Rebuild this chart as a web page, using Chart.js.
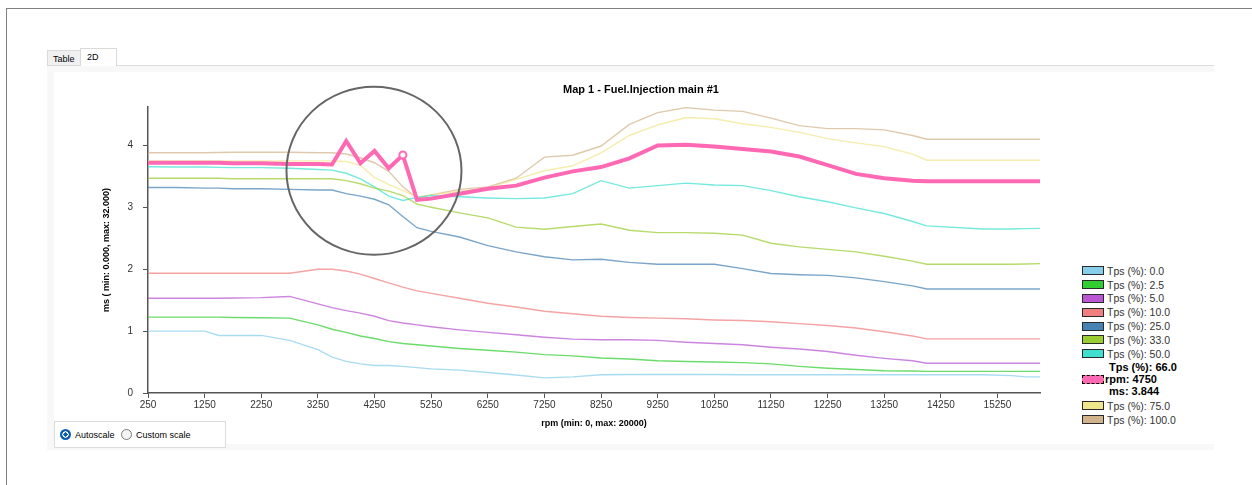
<!DOCTYPE html>
<html>
<head>
<meta charset="utf-8">
<script src="https://cdn.jsdelivr.net/npm/chart.js@4.4.1/dist/chart.umd.min.js"></script>
<style>
  html,body{margin:0;padding:0;background:#fff;}
  body{width:1252px;height:485px;overflow:hidden;position:relative;font-family:"Liberation Sans",Arial,sans-serif;}
  .abs{position:absolute;}
  #frame{left:6px;top:8px;width:1300px;height:600px;border-left:1px solid #808080;border-top:1px solid #808080;}
  .tab{position:absolute;box-sizing:border-box;font-size:9px;color:#000;}
  #tabTable{left:47px;top:50px;width:34px;height:15px;background:#f0f0f0;border:1px solid #d9d9d9;border-bottom:none;padding:3px 0 0 5px;}
  #tab2D{left:80px;top:48px;width:37px;height:18px;background:#fff;border:1px solid #d9d9d9;border-bottom:none;padding:3px 0 0 6px;z-index:2;}
  #tabLine{left:47px;top:65px;width:1167px;height:1px;background:#dcdcdc;}
  #panel{left:47px;top:66px;width:1167px;height:384px;background:#f8f8f8;}
  #inner{left:54px;top:72px;width:1160px;height:372px;background:#fff;}
  #chart{position:absolute;left:54px;top:72px;}
  #title{left:441px;top:83px;width:400px;text-align:center;font-weight:bold;font-size:11px;color:#000;}
  #legend{left:1082px;top:264px;width:160px;font-size:10.5px;color:#333;}
  .row{display:flex;align-items:center;height:13.8px;}
  .sw{width:22px;height:9px;box-sizing:border-box;border:1px solid #2a2a2a;margin-right:3px;flex:none;}
  .brow{height:12.4px;line-height:12.4px;font-weight:bold;font-size:11px;color:#000;display:flex;align-items:center;}
  .dsw{width:22px;height:9px;box-sizing:border-box;border:1.5px dashed #000;margin-right:1px;flex:none;}
  #radioBox{left:54px;top:421px;width:172px;height:27px;box-sizing:border-box;border:1px solid #dcdcdc;background:#fff;font-size:9px;color:#000;}
  .rb{position:absolute;top:7px;width:11px;height:11px;border-radius:50%;box-sizing:border-box;}
  #rb1{left:5px;background:radial-gradient(circle,#0a5fb0 0 2px,#fff 2.2px 3px,#0a5fb0 3.3px);}
  #rb2{left:66px;border:1px solid #7a7a7a;background:#f4f4f4;}
  .rt{position:absolute;top:8px;}
</style>
</head>
<body>
<div id="frame" class="abs"></div>
<div id="tabTable" class="tab">Table</div>
<div id="tab2D" class="tab">2D</div>
<div id="tabLine" class="abs"></div>
<div id="panel" class="abs"></div>
<div id="inner" class="abs"></div>
<canvas id="chart" width="1000" height="371"></canvas>
<div id="title" class="abs">Map 1 - Fuel.Injection main #1</div>
<div id="legend" class="abs"></div>
<div id="radioBox" class="abs">
  <div id="rb1" class="rb"></div><span class="rt" style="left:20px">Autoscale</span>
  <div id="rb2" class="rb"></div><span class="rt" style="left:81px">Custom scale</span>
</div>
<script>
// ---------- data ----------
const chartTitle = 'Map 1 - Fuel.Injection main #1';
const xAxisTitle = 'rpm (min: 0, max: 20000)';
const yAxisTitle = 'ms ( min: 0.000, max: 32.000)';
const legendPrefix = 'Tps (%): ';
const tpsValues = [0.0, 2.5, 5.0, 10.0, 25.0, 33.0, 50.0, 66.0, 75.0, 100.0];
const seriesColors = ['#87CEEB','#32CD32','#BA55D3','#F08080','#4682B4','#9ACD32','#40E0D0','#FF69B4','#F0E68C','#D2B48C'];
const xTickValues = [250,1250,2250,3250,4250,5250,6250,7250,8250,9250,10250,11250,12250,13250,14250,15250];
const yTickValues = [0,1,2,3,4];
const rpm = [250,750,1250,1500,1750,2250,2750,3250,3500,3750,4000,4250,4500,4750,5000,5250,5750,6250,6750,7250,7750,8250,8750,9250,9750,10250,10750,11250,11750,12250,12750,13250,13750,14000,15000,15500,15750,16000];

const tps0   = [1.00,1.00,1.00,0.93,0.93,0.93,0.85,0.70,0.58,0.51,0.47,0.445,0.445,0.43,0.41,0.39,0.37,0.33,0.29,0.245,0.26,0.295,0.30,0.30,0.30,0.30,0.295,0.295,0.295,0.295,0.295,0.295,0.295,0.295,0.295,0.28,0.26,0.26];
const tps2_5 = [1.225,1.225,1.225,1.225,1.22,1.215,1.21,1.10,1.03,0.98,0.92,0.88,0.83,0.80,0.78,0.76,0.72,0.69,0.66,0.62,0.60,0.565,0.55,0.52,0.51,0.50,0.49,0.47,0.43,0.40,0.38,0.36,0.355,0.35,0.35,0.35,0.35,0.35];
const tps5   = [1.53,1.53,1.53,1.53,1.535,1.54,1.56,1.44,1.38,1.33,1.29,1.24,1.17,1.13,1.10,1.07,1.02,0.98,0.94,0.90,0.87,0.86,0.86,0.85,0.82,0.80,0.78,0.74,0.71,0.67,0.61,0.56,0.52,0.48,0.48,0.48,0.48,0.48];
const tps10  = [1.935,1.935,1.935,1.935,1.935,1.935,1.935,2.00,2.00,1.97,1.92,1.85,1.78,1.71,1.65,1.61,1.53,1.45,1.39,1.32,1.28,1.24,1.22,1.21,1.20,1.18,1.17,1.15,1.12,1.09,1.05,0.99,0.92,0.875,0.875,0.875,0.875,0.875];
const tps25  = [3.32,3.32,3.31,3.31,3.30,3.30,3.29,3.28,3.28,3.22,3.18,3.13,3.04,2.85,2.67,2.61,2.52,2.38,2.28,2.20,2.15,2.16,2.11,2.08,2.08,2.08,2.01,1.93,1.91,1.90,1.86,1.80,1.73,1.68,1.68,1.68,1.68,1.68];
const tps33  = [3.47,3.47,3.47,3.47,3.46,3.46,3.46,3.46,3.46,3.43,3.38,3.31,3.26,3.19,3.05,3.00,2.91,2.83,2.68,2.645,2.69,2.73,2.63,2.59,2.59,2.58,2.55,2.42,2.36,2.32,2.28,2.21,2.13,2.08,2.08,2.08,2.085,2.09];
const tps50  = [3.655,3.65,3.65,3.645,3.64,3.64,3.63,3.61,3.60,3.55,3.46,3.33,3.18,3.11,3.16,3.19,3.17,3.15,3.14,3.15,3.22,3.43,3.31,3.35,3.39,3.36,3.35,3.27,3.17,3.09,2.99,2.90,2.77,2.70,2.65,2.65,2.655,2.66];
const tps66  = [3.72,3.72,3.72,3.72,3.71,3.71,3.70,3.70,3.69,4.07,3.71,3.91,3.63,3.844,3.12,3.14,3.22,3.30,3.35,3.48,3.58,3.65,3.79,4.00,4.01,3.98,3.94,3.90,3.82,3.68,3.54,3.47,3.43,3.42,3.42,3.42,3.42,3.42];
const tps75  = [3.75,3.75,3.75,3.75,3.75,3.75,3.75,3.75,3.75,3.74,3.68,3.48,3.37,3.27,3.17,3.20,3.26,3.31,3.45,3.59,3.67,3.88,4.16,4.33,4.45,4.43,4.35,4.29,4.21,4.11,4.04,3.98,3.86,3.76,3.76,3.76,3.76,3.76];
const tps100 = [3.88,3.88,3.88,3.885,3.89,3.89,3.89,3.88,3.88,3.86,3.80,3.72,3.58,3.33,3.15,3.20,3.29,3.33,3.47,3.81,3.84,3.99,4.34,4.53,4.61,4.57,4.55,4.44,4.32,4.27,4.27,4.25,4.16,4.10,4.10,4.10,4.10,4.10];

const seriesValues = [tps0, tps2_5, tps5, tps10, tps25, tps33, tps50, tps66, tps75, tps100];
const highlightSeries = 7;     // Tps 66.0
const markedRpm = 4750;
const circleCenter = {rpm: 4240, ms: 3.59};

// ---------- helpers ----------
function hexA(hex, a){
  const n = parseInt(hex.slice(1),16);
  return `rgba(${(n>>16)&255},${(n>>8)&255},${n&255},${a})`;
}
const FONT = '"Liberation Sans", Arial, sans-serif';
const markIdx = rpm.indexOf(markedRpm);

const datasets = seriesValues.map((vals, i) => {
  const hl = i === highlightSeries;
  return {
    label: legendPrefix + tpsValues[i].toFixed(1),
    data: rpm.map((r, k) => ({x: r, y: vals[k]})),
    borderColor: hl ? seriesColors[i] : hexA(seriesColors[i], 0.72),
    borderWidth: hl ? 4 : 1.4,
    tension: 0,
    fill: false,
    order: hl ? 0 : 1,
    pointRadius: hl ? rpm.map((r, k) => k === markIdx ? 3.5 : 0) : 0,
    pointBackgroundColor: '#fff',
    pointBorderColor: seriesColors[i],
    pointBorderWidth: 2,
    pointHoverRadius: 0
  };
});

const circlePlugin = {
  id: 'circleNote',
  afterDatasetsDraw(chart, args, opts) {
    const {ctx, scales: {x, y}} = chart;
    const cx = x.getPixelForValue(opts.rpm), cy = y.getPixelForValue(opts.ms);
    ctx.save();
    ctx.beginPath();
    ctx.ellipse(cx, cy, opts.rx, opts.ry, 0, 0, Math.PI * 2);
    ctx.strokeStyle = opts.color;
    ctx.lineWidth = opts.width;
    ctx.stroke();
    ctx.restore();
  }
};

new Chart(document.getElementById('chart'), {
  type: 'line',
  data: {datasets},
  plugins: [circlePlugin],
  options: {
    responsive: false,
    animation: false,
    events: [],
    layout: {padding: {left: 43.6, right: 14, top: 35, bottom: 10}},
    plugins: {
      legend: {display: false},
      tooltip: {enabled: false},
      title: {display: false},
      circleNote: {rpm: circleCenter.rpm, ms: circleCenter.ms, rx: 87.5, ry: 84, color: '#666', width: 2}
    },
    scales: {
      x: {
        type: 'linear', min: 250, max: 16000,
        afterBuildTicks: s => { s.ticks = xTickValues.map(v => ({value: v})); },
        afterFit: s => { s.height = 40; },
        ticks: {autoSkip: false, maxRotation: 0, minRotation: 0, padding: 1, color: '#333',
                font: {family: FONT, size: 10}, callback: v => String(v)},
        grid: {drawOnChartArea: false, drawTicks: true, tickLength: 5, color: '#555', lineWidth: 1},
        border: {display: true, color: '#555', width: 1.5},
        title: {display: true, text: xAxisTitle, color: '#000', padding: {top: 4, bottom: 4},
                font: {family: FONT, size: 9, weight: 'bold'}}
      },
      y: {
        type: 'linear', min: 0, max: 4.62,
        afterBuildTicks: s => { s.ticks = yTickValues.map(v => ({value: v})); },
        afterFit: s => { s.width = 50.4; },
        ticks: {padding: 10, color: '#333', font: {family: FONT, size: 10}, callback: v => String(v)},
        grid: {drawOnChartArea: false, drawTicks: true, tickLength: 5, color: '#555', lineWidth: 1},
        border: {display: true, color: '#555', width: 1.5},
        title: {display: true, text: yAxisTitle, color: '#000', padding: {top: 4, bottom: 4},
                font: {family: FONT, size: 9, weight: 'bold'}}
      }
    }
  }
});

document.getElementById('title').textContent = chartTitle;

// ---------- legend ----------
const lg = document.getElementById('legend');
seriesValues.forEach((vals, i) => {
  const label = legendPrefix + tpsValues[i].toFixed(1);
  if (i === highlightSeries) {
    const block = document.createElement('div');
    block.style.margin = '0 0 1.3px 0';
    const l1 = document.createElement('div'); l1.className = 'brow'; l1.style.paddingLeft = '27px'; l1.textContent = label;
    const l2 = document.createElement('div'); l2.className = 'brow';
    const d = document.createElement('div'); d.className = 'dsw'; d.style.background = seriesColors[i];
    const t2 = document.createElement('span'); t2.textContent = 'rpm: ' + markedRpm;
    l2.appendChild(d); l2.appendChild(t2);
    const l3 = document.createElement('div'); l3.className = 'brow'; l3.style.paddingLeft = '27px';
    l3.textContent = 'ms: ' + vals[markIdx].toFixed(3);
    block.appendChild(l1); block.appendChild(l2); block.appendChild(l3);
    lg.appendChild(block);
  } else {
    const row = document.createElement('div'); row.className = 'row';
    const sw = document.createElement('div'); sw.className = 'sw'; sw.style.background = seriesColors[i];
    const t = document.createElement('span'); t.textContent = label;
    row.appendChild(sw); row.appendChild(t);
    lg.appendChild(row);
  }
});
</script>
</body>
</html>
